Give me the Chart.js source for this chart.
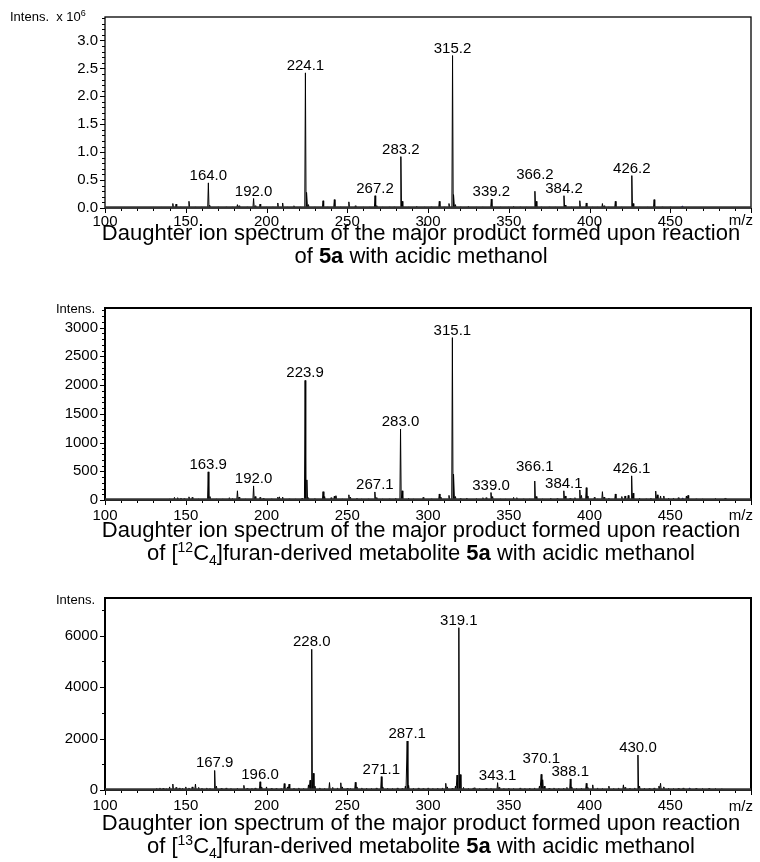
<!DOCTYPE html>
<html>
<head>
<meta charset="utf-8">
<script src="https://cdn.jsdelivr.net/npm/chart.js@4.4.0/dist/chart.umd.min.js"></script>
<style>
    body { margin: 0; background: #fff; font-family: "Liberation Sans", Arial, sans-serif; color: #000; }
    #wrap { position: relative; width: 760px; height: 862px; overflow: hidden; }
    canvas { position: absolute; left: 0; }
    .txt { position: absolute; font-size: 13px; line-height: 16px; white-space: nowrap; }
    .mz { position: absolute; left: 700px; width: 53px; text-align: right; font-size: 15px; line-height: 16px; }
    .cap { position: absolute; left: 91px; width: 660px; text-align: center; font-size: 22px; line-height: 23px; }
    .cap sup, .cap sub { font-size: 14px; line-height: 0; }
    .txt sup { font-size: 9px; line-height: 0; }
</style>
</head>
<body>
<div id="wrap">
    <canvas id="chart1" width="760" height="240" style="top:0px"></canvas>
    <canvas id="chart2" width="760" height="240" style="top:290px"></canvas>
    <canvas id="chart3" width="760" height="240" style="top:580px"></canvas>

    <div class="txt" style="left:10px;top:9px">Intens.&nbsp;&nbsp;x 10<sup>6</sup></div>
    <div class="txt" style="left:40px;width:55px;text-align:right;top:301px">Intens.</div>
    <div class="txt" style="left:40px;width:55px;text-align:right;top:592px">Intens.</div>

    <div class="mz" style="top:212px">m/z</div>
    <div class="mz" style="top:507px">m/z</div>
    <div class="mz" style="top:798px">m/z</div>

    <div class="cap" style="top:221px">Daughter ion spectrum of the major product formed upon reaction<br>of <b>5a</b> with acidic methanol</div>
    <div class="cap" style="top:518px">Daughter ion spectrum of the major product formed upon reaction<br>of [<sup>12</sup>C<sub>4</sub>]furan-derived metabolite <b>5a</b> with acidic methanol</div>
    <div class="cap" style="top:811px">Daughter ion spectrum of the major product formed upon reaction<br>of [<sup>13</sup>C<sub>4</sub>]furan-derived metabolite <b>5a</b> with acidic methanol</div>
</div>

<script>
/* ==========================================
   Data (m/z and intensity of each peak)
   ========================================== */

// panel 1 : 5a + acidic methanol (intensity x 10^6)
const p1Mz = [130, 135, 142, 144, 147, 152, 156, 160, 164.0, 165, 170, 175, 179, 182, 183, 188,
    192.0, 193, 196, 200, 204, 207, 210, 213, 217, 221, 224.1, 225, 226, 230, 235, 238, 242, 246,
    251, 255, 260, 264, 267.2, 268, 272, 276, 279, 283.2, 284, 288, 293, 298, 302, 307, 310, 313,
    315.2, 316, 317, 320, 325, 330, 334, 339.2, 340, 345, 350, 353, 357, 361, 366.2, 367, 370, 375,
    379, 384.2, 385, 389, 394, 398, 402, 405, 408, 409, 412, 416, 420, 426.2, 427, 431, 436, 440,
    445, 450];
const p1Int = [0.01, 0.01, 0.08, 0.07, 0.02, 0.12, 0.02, 0.02, 0.45, 0.05, 0.02, 0.02, 0.02, 0.06, 0.04, 0.02,
    0.17, 0.04, 0.07, 0.02, 0.02, 0.09, 0.09, 0.02, 0.04, 0.02, 2.42, 0.28, 0.06, 0.02, 0.13, 0.02, 0.15, 0.02,
    0.11, 0.04, 0.02, 0.02, 0.22, 0.04, 0.02, 0.02, 0.02, 0.92, 0.12, 0.02, 0.03, 0.02, 0.02, 0.12, 0.02, 0.08,
    2.73, 0.24, 0.06, 0.02, 0.03, 0.02, 0.02, 0.16, 0.03, 0.02, 0.02, 0.03, 0.02, 0.02, 0.30, 0.12, 0.02, 0.02,
    0.02, 0.22, 0.05, 0.02, 0.13, 0.09, 0.02, 0.02, 0.08, 0.04, 0.02, 0.12, 0.02, 0.58, 0.08, 0.02, 0.02, 0.15,
    0.02, 0.02];
const p1Labels = ["164.0", "192.0", "224.1", "267.2", "283.2", "315.2", "339.2", "366.2", "384.2", "426.2"];
const p1Precursor = 457.5;
const p1Ticks = [0, 0.5, 1.0, 1.5, 2.0, 2.5, 3.0];

// panel 2 : [12C4]furan-derived metabolite 5a
const p2Mz = [140, 143, 145, 147, 149, 152, 154, 158, 163.9, 165, 169, 173, 177, 179, 182, 183,
    187, 192.0, 193, 196, 198, 203, 207, 208, 210, 214, 218, 222, 223.9, 225, 226, 230, 235, 236,
    240, 242, 243, 247, 251, 252, 256, 259, 263, 267.1, 268, 272, 276, 280, 283.0, 284, 288, 291,
    297, 302, 307, 308, 313, 315.1, 316, 317, 320, 324, 330, 334, 336, 339.0, 340, 345, 348, 353,
    355, 359, 363, 366.1, 367, 371, 376, 380, 384.1, 385, 388, 391, 394, 395, 398, 399, 403, 405,
    408, 409, 412, 416, 420, 422, 424, 426.1, 427, 431, 435, 438, 441, 442, 444, 446, 449, 452,
    455, 460, 461, 466, 470, 478, 484];
const p2Int = [20, 45, 40, 35, 25, 55, 45, 20, 490, 60, 20, 20, 40, 25, 160, 50,
    20, 245, 60, 45, 30, 20, 50, 55, 50, 20, 20, 30, 2080, 350, 40, 25, 145, 60,
    40, 65, 75, 20, 90, 50, 30, 20, 20, 140, 40, 20, 20, 30, 1235, 160, 30, 20,
    45, 20, 105, 50, 80, 2825, 450, 60, 25, 35, 25, 40, 40, 130, 60, 20, 20, 45,
    40, 20, 20, 330, 60, 20, 30, 25, 160, 70, 30, 40, 175, 80, 215, 70, 45, 20,
    145, 50, 30, 105, 60, 70, 80, 420, 120, 30, 20, 30, 155, 90, 70, 70, 30, 35,
    40, 70, 80, 20, 20, 30, 35];
const p2Labels = ["163.9", "192.0", "223.9", "267.1", "283.0", "315.1", "339.0", "366.1", "384.1", "426.1"];
const p2Precursor = 457.7;
const p2Ticks = [0, 500, 1000, 1500, 2000, 2500, 3000];

// panel 3 : [13C4]furan-derived metabolite 5a
const p3Mz = [132, 134, 136, 138, 140, 142, 144, 146, 148, 150, 152, 154, 156, 158, 160, 163,
    165, 167.9, 169, 172, 175, 178, 182, 186, 188, 191, 193, 196.0, 197, 200, 203, 206, 209, 211,
    213, 214, 217, 220, 223, 226, 227, 228.0, 229, 230, 233, 236, 239, 241, 244, 246, 247, 250,
    252, 255, 256, 259, 262, 265, 268, 271.1, 272, 275, 278, 281, 284, 286, 287.1, 288, 291, 294,
    297, 300, 303, 306, 309, 311, 312, 315, 317, 318, 319.1, 320, 322, 325, 328, 329, 332, 336,
    339, 343.1, 344, 347, 350, 353, 357, 360, 363, 366, 369, 370.1, 371, 372, 375, 378, 381, 384,
    386, 388.1, 389, 392, 395, 398, 399, 402, 405, 408, 412, 415, 418, 421, 422, 425, 428, 430.0,
    431, 434, 437, 440, 443, 444, 446, 449, 452, 455, 458, 462, 466, 470, 474, 478, 482];
const p3Int = [60, 80, 70, 50, 120, 230, 100, 80, 70, 120, 80, 120, 230, 100, 70, 80,
    60, 760, 150, 70, 80, 60, 70, 180, 70, 60, 80, 320, 120, 120, 70, 60, 50, 250,
    120, 230, 70, 80, 60, 200, 380, 5475, 650, 150, 80, 60, 290, 100, 80, 280, 120, 70,
    60, 300, 120, 80, 70, 60, 80, 520, 120, 70, 60, 80, 60, 150, 1905, 180, 70, 80,
    60, 80, 60, 70, 80, 260, 120, 70, 150, 580, 6315, 600, 100, 60, 80, 90, 60, 70,
    60, 285, 100, 60, 70, 60, 80, 60, 70, 80, 150, 610, 400, 150, 70, 80, 60, 70,
    100, 430, 120, 60, 70, 260, 100, 200, 80, 60, 150, 60, 80, 200, 100, 70, 80, 1360,
    150, 70, 60, 80, 150, 260, 120, 70, 60, 70, 80, 60, 70, 60, 70, 60, 50];
const p3Labels = ["167.9", "196.0", "228.0", "271.1", "287.1", "319.1", "343.1", "370.1", "388.1", "430.0"];
const p3Precursor = 462;
const p3Ticks = [0, 2000, 4000, 6000];

// x axis (m/z)
const xMin = 100;
const xMax = 500;
const xTicks = [100, 150, 200, 250, 300, 350, 400, 450];


/* ==========================================
   Helpers
   ========================================== */

Chart.defaults.font.family = '"Liberation Sans", Arial, sans-serif';
Chart.defaults.color = "#000";

// each peak becomes a thin spike on the baseline
function stickData(mz, inten) {
    const pts = [];
    mz.forEach(function (m, i) {
        pts.push({ x: m - 0.4, y: 0 });
        pts.push({ x: m, y: inten[i] });
        pts.push({ x: m + 0.4, y: 0 });
    });
    return pts;
}

function makeChart(id, cfg) {

    // frame + minor/major ticks
    const framePlugin = {
        id: "frame" + id,
        afterDraw(chart) {
            const ctx = chart.ctx;
            const a = chart.chartArea;
            const x = chart.scales.x;
            const y = chart.scales.y;
            ctx.save();
            ctx.strokeStyle = "#000";
            ctx.lineWidth = 1;

            for (let k = 0; xMin + k * 10 <= xMax; k++) {
                const px = Math.round(x.getPixelForValue(xMin + k * 10)) + 0.5;
                const len = k % 5 === 0 ? 5 : 3;
                ctx.beginPath();
                ctx.moveTo(px, a.bottom);
                ctx.lineTo(px, a.bottom + len);
                ctx.stroke();
            }

            const per = Math.round(cfg.major / cfg.minor);
            for (let k = 0; k * cfg.minor <= cfg.max + 1e-9; k++) {
                const py = Math.round(y.getPixelForValue(k * cfg.minor)) + 0.5;
                const len = k % per === 0 ? 5 : 3;
                ctx.beginPath();
                ctx.moveTo(a.left, py);
                ctx.lineTo(a.left - len, py);
                ctx.stroke();
            }

            ctx.lineWidth = cfg.frame;
            ctx.strokeRect(a.left, a.top, a.right - a.left, a.bottom - a.top);

            // thick grey-black baseline (dense noise in the original)
            ctx.strokeStyle = "#333";
            ctx.lineWidth = 2.5;
            ctx.beginPath();
            ctx.moveTo(a.left, a.bottom - 0.5);
            ctx.lineTo(a.right, a.bottom - 0.5);
            ctx.stroke();
            ctx.restore();
        }
    };

    // m/z labels over the main peaks
    const labelPlugin = {
        id: "labels" + id,
        afterDatasetsDraw(chart) {
            const ctx = chart.ctx;
            const x = chart.scales.x;
            const y = chart.scales.y;
            ctx.save();
            ctx.font = '15px "Liberation Sans", Arial, sans-serif';
            ctx.fillStyle = "#000";
            ctx.textAlign = "center";
            ctx.textBaseline = "alphabetic";
            cfg.labels.forEach(function (t) {
                const i = cfg.mz.indexOf(parseFloat(t));
                if (i < 0) return;
                const lift = cfg.lift[t] || 0;
                ctx.fillText(t, x.getPixelForValue(cfg.mz[i]), y.getPixelForValue(cfg.inten[i]) - 3 - lift);
            });
            ctx.restore();
        }
    };

    return new Chart(document.getElementById(id), {
        type: "line",
        data: {
            datasets: [{
                data: stickData(cfg.mz, cfg.inten),
                borderColor: "#000",
                borderWidth: 1,
                pointRadius: 0,
                tension: 0
            }, {
                data: [{ x: cfg.precursor, y: 0 }],
                showLine: false,
                pointStyle: "rectRot",
                pointRadius: 2.5,
                backgroundColor: "#1f1f8f",
                borderColor: "#1f1f8f",
                borderWidth: 0
            }]
        },
        options: {
            responsive: false,
            animation: false,
            devicePixelRatio: 1,
            layout: { padding: { top: cfg.padTop, right: 9, left: 0, bottom: 0 } },
            plugins: { legend: { display: false }, tooltip: { enabled: false } },
            scales: {
                x: {
                    type: "linear",
                    min: xMin,
                    max: xMax,
                    grid: { display: false, drawTicks: false },
                    border: { display: false },
                    ticks: {
                        autoSkip: false,
                        maxRotation: 0,
                        padding: cfg.xPad,
                        font: { size: 15 }
                    },
                    afterBuildTicks(scale) { scale.ticks = xTicks.map(v => ({ value: v })); },
                    afterFit(scale) { scale.height = cfg.axisH; }
                },
                y: {
                    min: 0,
                    max: cfg.max,
                    grid: { display: false, drawTicks: false },
                    border: { display: false },
                    ticks: {
                        autoSkip: false,
                        padding: 7,
                        font: { size: 15 },
                        callback: cfg.fmt
                    },
                    afterBuildTicks(scale) { scale.ticks = cfg.ticks.map(v => ({ value: v })); },
                    afterFit(scale) { scale.width = 105; }
                }
            }
        },
        plugins: [framePlugin, labelPlugin]
    });
}


/* ==========================================
   Build the three spectra
   ========================================== */

makeChart("chart1", {
    mz: p1Mz, inten: p1Int, labels: p1Labels, precursor: p1Precursor, ticks: p1Ticks,
    max: 3.42, major: 0.5, minor: 0.1, fmt: v => v.toFixed(1),
    padTop: 17, axisH: 32, xPad: 5, frame: 1.3, lift: { "366.2": 9 }
});

makeChart("chart2", {
    mz: p2Mz, inten: p2Int, labels: p2Labels, precursor: p2Precursor, ticks: p2Ticks,
    max: 3340, major: 500, minor: 100, fmt: v => v,
    padTop: 18, axisH: 30, xPad: 7, frame: 2, lift: { "366.1": 7 }
});

makeChart("chart3", {
    mz: p3Mz, inten: p3Int, labels: p3Labels, precursor: p3Precursor, ticks: p3Ticks,
    max: 7470, major: 2000, minor: 1000, fmt: v => v,
    padTop: 18, axisH: 30, xPad: 7, frame: 2, lift: { "370.1": 8 }
});
</script>
</body>
</html>
